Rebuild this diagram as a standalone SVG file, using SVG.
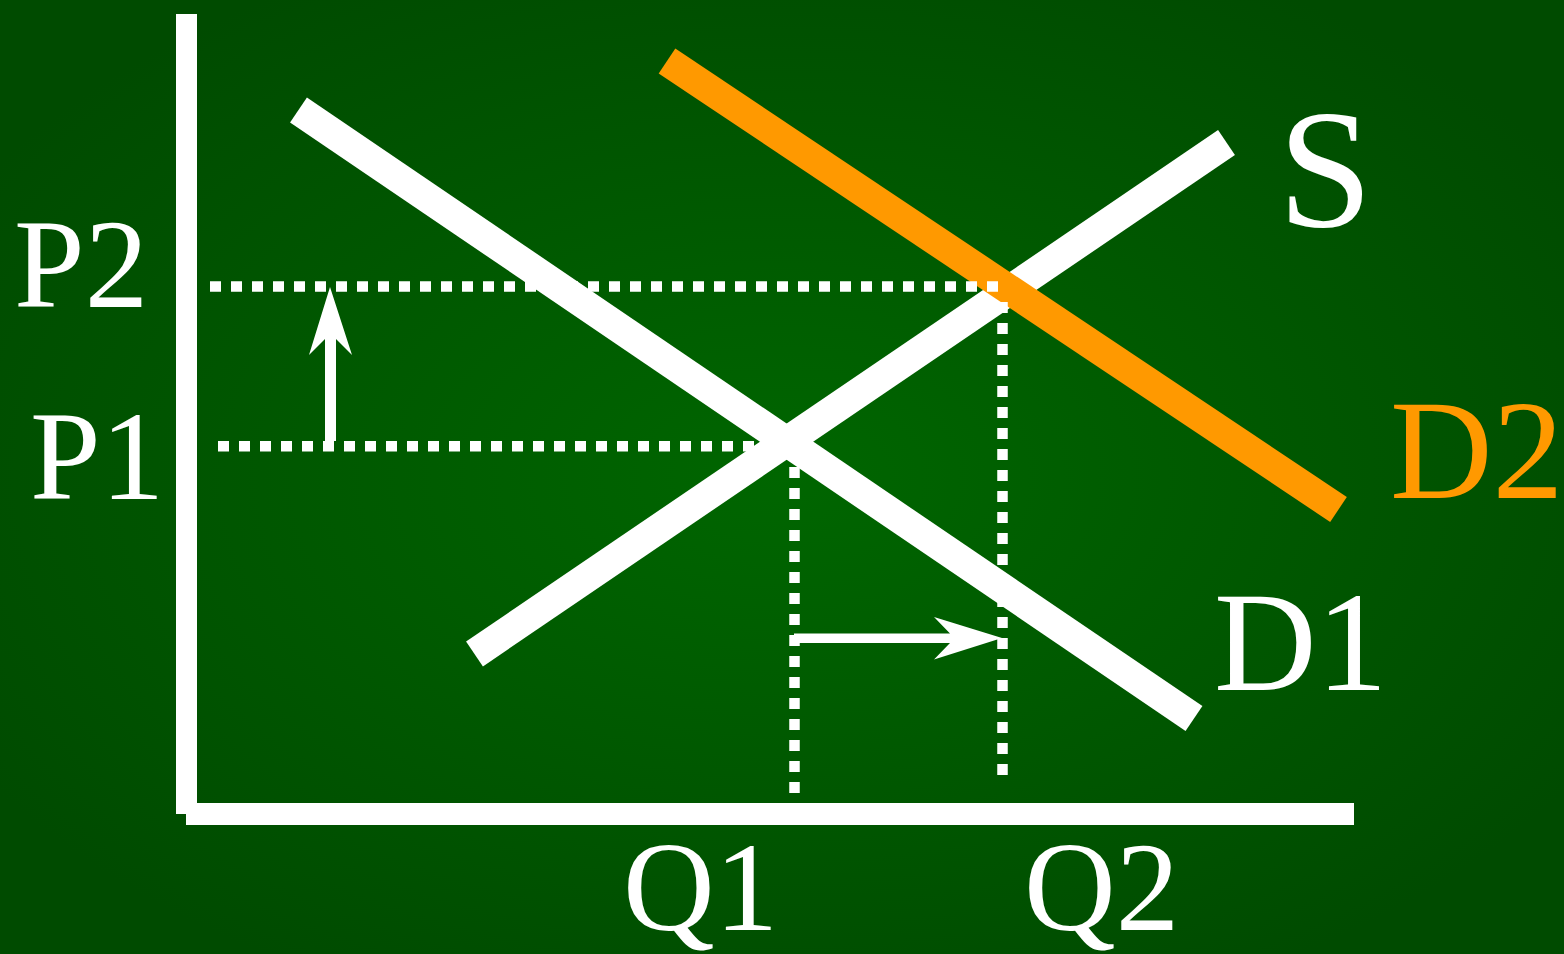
<svg xmlns="http://www.w3.org/2000/svg" width="1564" height="954" viewBox="0 0 1564 954">
<defs>
<radialGradient id="bg" cx="50%" cy="50%" r="60%">
<stop offset="0" stop-color="#006600"/>
<stop offset="1" stop-color="#004b00"/>
</radialGradient>
</defs>
<style>
.curve{fill:none;stroke-width:30;stroke-linecap:butt}
.w{stroke:#ffffff}
.o{stroke:#ff9900}
.dot{fill:none;stroke:#ffffff;stroke-width:10.5;stroke-dasharray:11 10}
.lbl{font-family:"Liberation Serif","Times New Roman",serif;fill:#ffffff}
</style>
<rect width="1564" height="954" fill="url(#bg)"/>
<g id="axes" fill="#ffffff">
<rect x="176" y="14" width="21" height="800"/>
<rect x="186" y="803" width="1168" height="22"/>
</g>
<g id="supply"><line class="curve w" x1="474.5" y1="654" x2="1226.5" y2="142.5"/></g>
<g id="demand1"><line class="curve w" x1="298.5" y1="110" x2="1194" y2="718.5"/></g>
<g id="demand2"><line class="curve o" x1="667" y1="61" x2="1338.5" y2="509.5"/></g>
<g id="connectors">
<line class="dot" x1="210" y1="286.5" x2="1003" y2="286.5"/>
<line class="dot" x1="218" y1="446.3" x2="757" y2="446.3"/>
<line class="dot" x1="794.5" y1="467" x2="794.5" y2="796"/>
<line class="dot" x1="1002.5" y1="302" x2="1002.5" y2="778"/>
<polygon fill="#ffffff" points="330,287 352,355 336,339 336,441 325,441 325,339 309,355"/>
<polygon fill="#ffffff" points="1002,638 934,659.5 950,643 794,643 794,633.5 950,633.5 934,617"/>
</g>
<g id="labels">
<text class="lbl" x="14" y="307" font-size="127">P2</text>
<text class="lbl" x="30" y="499" font-size="127">P1</text>
<text class="lbl" x="623" y="930" font-size="127">Q1</text>
<text class="lbl" x="1024" y="930" font-size="127">Q2</text>
<text class="lbl" x="1214" y="690" font-size="142">D1</text>
<text class="lbl" x="1390" y="498" font-size="142" style="fill:#ff9900">D2</text>
<text class="lbl" x="1278" y="226" font-size="170">S</text>
</g>
</svg>
